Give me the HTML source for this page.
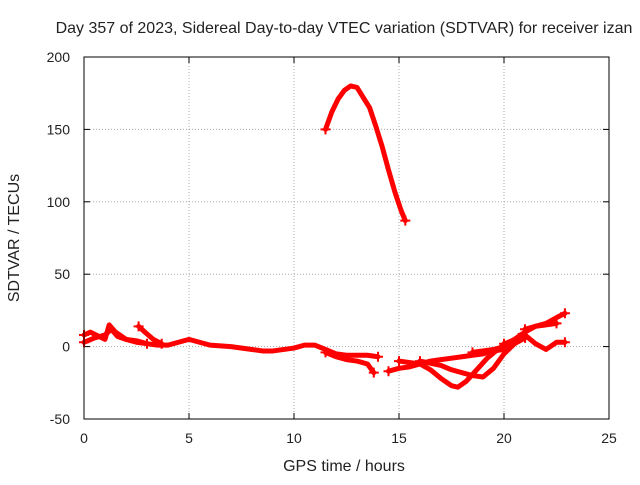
<!DOCTYPE html>
<html><head><meta charset="utf-8"><style>
body{margin:0;background:#fff}
text{font-family:"Liberation Sans",sans-serif;font-size:14px;fill:#222}
.big{font-size:16px}
</style></head><body>
<svg id="chart" width="640" height="480" xmlns="http://www.w3.org/2000/svg">
<text class="big" x="344" y="33" text-anchor="middle">Day 357 of 2023, Sidereal Day-to-day VTEC variation (SDTVAR) for receiver izan</text>
<text class="big" x="344" y="471" text-anchor="middle">GPS time / hours</text>
<text class="big" transform="translate(19,238) rotate(-90)" text-anchor="middle">SDTVAR / TECUs</text>
<g id="grid"></g><g id="ticks"></g><g id="series"></g>
<rect x="84" y="57" width="525" height="362" fill="none" stroke="#000" stroke-width="1"/>
</svg>
<script>
const xTicks=[0,5,10,15,20,25];
const yTicks=[-50,0,50,100,150,200];
const s1x=[11.5,11.8,12.1,12.4,12.7,13.0,13.3,13.6,13.9,14.2,14.5,14.8,15.1,15.3];
const s1y=[150,162,171,177,180,179,172,165,152,138,122,107,94,87];
const s2x=[0,0.5,1,1.3,1.6,2,2.5,3,3.5,4,4.5,5,5.5,6,7,8,8.5,9,10,10.5,11,11.5,12,12.5,13,13.5,14];
const s2y=[3,6,8,12,7,5,4,2,1,1,3,5,3,1,0,-2,-3,-3,-1,1,1,-2,-5,-6,-6,-6,-7];
const s3x=[0,0.3,1,1.2,1.5,2,2.5,3];
const s3y=[8,10,5,15,10,5,3,2];
const s4x=[2.6,2.9,3.3,3.7];
const s4y=[14,10,5,2];
const s5x=[11.5,12,12.5,13,13.5,13.8];
const s5y=[-4,-7,-9,-10,-12,-18];
const s6x=[14.5,15,15.5,16,16.5,17,17.5,18,18.5,19,19.5,20];
const s6y=[-17,-15,-14,-12,-10,-9,-8,-7,-6,-5,-3,-2];
const s7x=[15,16,16.5,17,17.5,17.8,18.2,18.7,19.2,19.7,20.2,20.7];
const s7y=[-10,-12,-16,-22,-27,-28,-24,-16,-8,-2,3,6];
const s8x=[16,17,17.5,18,18.5,19,19.5,20,20.5,21];
const s8y=[-10,-13,-16,-18,-20,-21,-15,-5,2,6];
const s9x=[18.5,19.5,20,20.5,21,21.5,22,22.5,22.9];
const s9y=[-4,-2,0,5,10,14,16,20,23];
const s10x=[20,20.5,21,21.5,22,22.5,22.9];
const s10y=[2,4,8,2,-2,3,3];
const s11x=[21,21.5,22,22.5];
const s11y=[12,14,15,16];
const X=v=>84+v*21, Y=v=>419-(v+50)*362/250;
const NS="http://www.w3.org/2000/svg";
const grid=document.getElementById('grid'),ticks=document.getElementById('ticks'),ser=document.getElementById('series');
function mk(t,a,p){const e=document.createElementNS(NS,t);for(const k in a)e.setAttribute(k,a[k]);p.appendChild(e);return e;}
xTicks.forEach(v=>{
 if(v>0&&v<25){const g=mk('line',{x1:X(v),x2:X(v),y1:57,y2:419,stroke:'#aaa','stroke-dasharray':'1,2'},grid);
 
 }
 const t=mk('text',{x:X(v),y:443,'text-anchor':'middle'},ticks);t.textContent=v;
 
 
 mk('line',{x1:X(v),x2:X(v),y1:419,y2:413,stroke:'#000'},ticks);
 mk('line',{x1:X(v),x2:X(v),y1:57,y2:63,stroke:'#000'},ticks);
});
yTicks.forEach(v=>{
 if(v>-50&&v<200){const g=mk('line',{x1:84,x2:609,y1:Y(v),y2:Y(v),stroke:'#aaa','stroke-dasharray':'1,2'},grid);
 
 }
 const t=mk('text',{x:70,y:Y(v)+5,'text-anchor':'end'},ticks);t.textContent=v;
 
 
 mk('line',{x1:84,x2:90,y1:Y(v),y2:Y(v),stroke:'#000'},ticks);
 mk('line',{x1:609,x2:603,y1:Y(v),y2:Y(v),stroke:'#000'},ticks);
});
const all=[[s1x,s1y],[s2x,s2y],[s3x,s3y],[s4x,s4y],[s5x,s5y],[s6x,s6y],[s7x,s7y],[s8x,s8y],[s9x,s9y],[s10x,s10y],[s11x,s11y]];
all.forEach(([xs,ys],i)=>{
 const pts=xs.map((x,j)=>X(x)+','+Y(ys[j])).join(' ');
 const p=mk('polyline',{points:pts,fill:'none',stroke:'#f00','stroke-width':5,'stroke-linejoin':'round','stroke-linecap':'round'},ser);
 
 
 [0,xs.length-1].forEach(j=>{
  const cx=X(xs[j]),cy=Y(ys[j]);
  mk('path',{d:`M${cx-5},${cy}H${cx+5}M${cx},${cy-5}V${cy+5}`,stroke:'#f00','stroke-width':2},ser);
 });
});
</script>
</body></html>
